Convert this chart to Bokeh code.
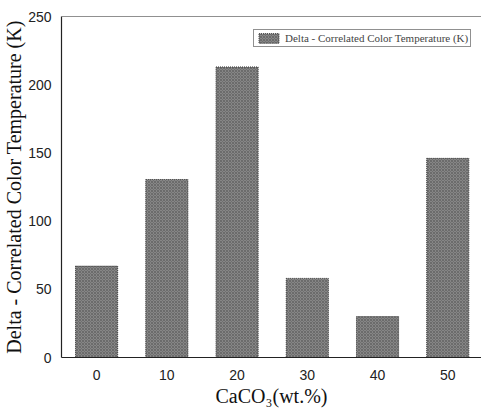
from bokeh.plotting import figure
from bokeh.models import ColumnDataSource, FixedTicker, Span, Legend, LegendItem, Range1d
from bokeh.embed import file_html
from bokeh.resources import INLINE

caco3 = [0, 10, 20, 30, 40, 50]
delta_cct = [67, 130.5, 213, 58, 30, 146]
y_ticks = [0, 50, 100, 150, 200, 250]
series_name = "Delta - Correlated Color Temperature (K)"

src = ColumnDataSource(dict(x=caco3, top=delta_cct))

p = figure(width=481, height=413, output_backend="svg", toolbar_location=None,
           x_range=Range1d(-5, 54.8), y_range=Range1d(0, 250),
           min_border_left=40, min_border_right=0, min_border_top=16, min_border_bottom=56)

r = p.vbar(x="x", top="top", width=6.0, source=src,
           fill_color="#868686", hatch_pattern="x", hatch_scale=3, hatch_color="#595959",
           hatch_weight=0.6, line_color="#3a3a3a", line_width=1, line_dash="1 1")

p.add_layout(Span(location=250, dimension="width", line_color="#222222", line_width=1.2))

p.outline_line_color = None
p.grid.visible = False

for ax in (p.xaxis[0], p.yaxis[0]):
    ax.major_tick_line_color = None
    ax.minor_tick_line_color = None
    ax.axis_line_color = "#222222"
    ax.axis_line_width = 1.2
    ax.major_label_text_font = "Liberation Sans"
    ax.major_label_text_font_size = "14px"
    ax.major_label_text_color = "#222222"
    ax.axis_label_text_font = "Liberation Serif"
    ax.axis_label_text_font_style = "normal"
    ax.axis_label_text_font_size = "20px"
    ax.axis_label_text_color = "#111111"

p.xaxis.ticker = FixedTicker(ticks=caco3)
p.yaxis.ticker = FixedTicker(ticks=y_ticks)
p.xaxis.axis_label = "CaCO\u2083(wt.%)"
p.yaxis.axis_label = "Delta - Correlated Color Temperature (K)"
p.xaxis.major_label_standoff = 6
p.yaxis.major_label_standoff = 4
p.xaxis.axis_label_standoff = 2
p.yaxis.axis_label_standoff = 0

legend = Legend(items=[LegendItem(label=series_name, renderers=[r])],
                location=(192, 310), margin=0, padding=2, spacing=0,
                label_standoff=4, glyph_width=25, glyph_height=12,
                label_text_font="Liberation Serif", label_text_font_size="11px",
                label_height=12, border_line_color="#222222", border_line_width=1.2,
                background_fill_alpha=1)
p.add_layout(legend)

open("out.html", "w").write(file_html(p, INLINE))
